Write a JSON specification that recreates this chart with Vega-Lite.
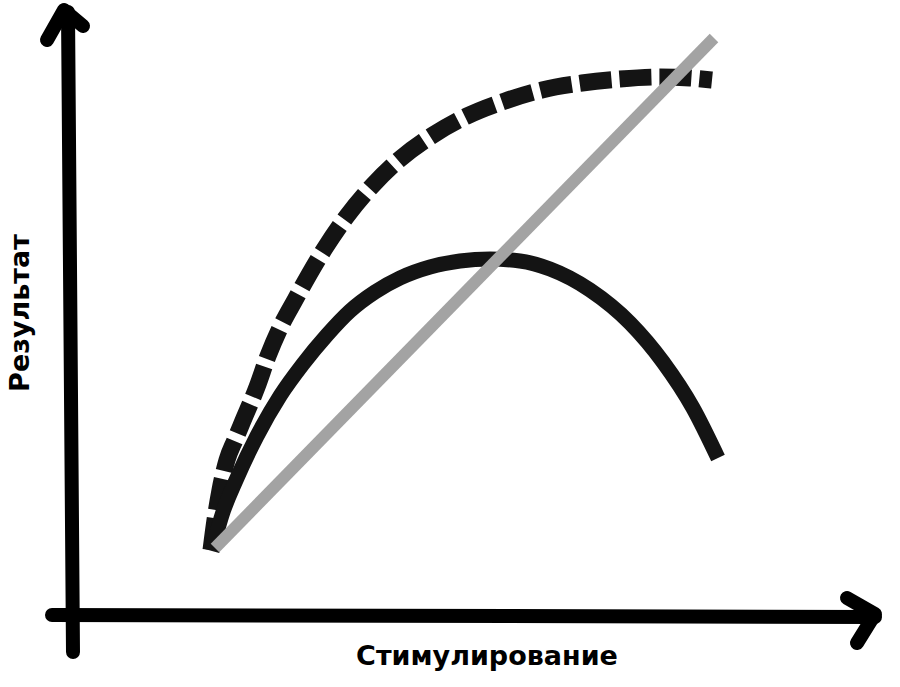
{
  "$schema": "https://vega.github.io/schema/vega-lite/v6.json",
  "width": 900,
  "height": 687,
  "padding": 0,
  "autosize": {"type": "fit", "contains": "padding"},
  "background": "white",
  "view": {"stroke": null},
  "layer": [
    {
      "data": {
        "values": [
          {"part": "y-axis", "i": 1, "x": -0.2, "y": 60.6},
          {"part": "y-axis", "i": 2, "x": 0.3, "y": -3.4},
          {"part": "y-arrow", "i": 1, "x": -2.3, "y": 57.8},
          {"part": "y-arrow", "i": 2, "x": -0.6, "y": 60.8},
          {"part": "y-arrow", "i": 3, "x": 1.3, "y": 59.2},
          {"part": "x-axis", "i": 1, "x": -1.8, "y": 0.3},
          {"part": "x-axis", "i": 2, "x": 80.5, "y": 0.1},
          {"part": "x-arrow", "i": 1, "x": 77.7, "y": 2.0},
          {"part": "x-arrow", "i": 2, "x": 80.5, "y": 0.4},
          {"part": "x-arrow", "i": 3, "x": 78.7, "y": -2.5}
        ]
      },
      "mark": {"type": "line", "color": "black", "strokeWidth": 14, "strokeCap": "round", "strokeJoin": "round"},
      "encoding": {
        "x": {"field": "x", "type": "quantitative", "scale": {"domain": [-7, 83]}, "axis": null},
        "y": {"field": "y", "type": "quantitative", "scale": {"domain": [-6.9, 61.8]}, "axis": null},
        "detail": {"field": "part"},
        "order": {"field": "i"}
      }
    },
    {
      "data": {
        "values": [
          {"x": 14.1, "y": 6.8}, {"x": 14.5, "y": 9.8}, {"x": 15.0, "y": 12.8},
          {"x": 15.7, "y": 15.8}, {"x": 16.5, "y": 17.8}, {"x": 17.2, "y": 19.5},
          {"x": 18.7, "y": 23.1}, {"x": 19.8, "y": 26.2}, {"x": 21.0, "y": 29.0},
          {"x": 22.5, "y": 31.8}, {"x": 24.0, "y": 34.5}, {"x": 25.5, "y": 37.0},
          {"x": 27.7, "y": 40.2}, {"x": 30.3, "y": 43.3}, {"x": 33.0, "y": 45.9},
          {"x": 36.3, "y": 48.3}, {"x": 39.7, "y": 50.2}, {"x": 43.5, "y": 51.7},
          {"x": 47.2, "y": 52.8}, {"x": 51.2, "y": 53.5}, {"x": 55.0, "y": 53.9},
          {"x": 59.0, "y": 54.1}, {"x": 62.0, "y": 54.0}, {"x": 64.2, "y": 53.8}
        ]
      },
      "mark": {"type": "line", "color": "#141414", "strokeWidth": 17, "strokeDash": [32, 8], "strokeCap": "butt", "interpolate": "monotone"},
      "encoding": {
        "x": {"field": "x", "type": "quantitative", "scale": {"domain": [-7, 83]}, "axis": null},
        "y": {"field": "y", "type": "quantitative", "scale": {"domain": [-6.9, 61.8]}, "axis": null}
      }
    },
    {
      "data": {
        "values": [
          {"x": 14.2, "y": 6.7}, {"x": 15.2, "y": 10.3}, {"x": 16.7, "y": 14.0},
          {"x": 18.7, "y": 18.2}, {"x": 21.0, "y": 22.2}, {"x": 23.3, "y": 25.4},
          {"x": 25.7, "y": 28.3}, {"x": 28.0, "y": 30.7}, {"x": 30.5, "y": 32.6},
          {"x": 33.0, "y": 34.0}, {"x": 36.0, "y": 35.1}, {"x": 39.0, "y": 35.7},
          {"x": 42.0, "y": 35.9}, {"x": 45.0, "y": 35.7}, {"x": 48.0, "y": 34.9},
          {"x": 52.0, "y": 32.8}, {"x": 56.0, "y": 29.5}, {"x": 59.3, "y": 25.6},
          {"x": 62.3, "y": 21.0}, {"x": 64.8, "y": 16.0}
        ]
      },
      "mark": {"type": "line", "color": "#141414", "strokeWidth": 15, "strokeCap": "butt", "interpolate": "monotone"},
      "encoding": {
        "x": {"field": "x", "type": "quantitative", "scale": {"domain": [-7, 83]}, "axis": null},
        "y": {"field": "y", "type": "quantitative", "scale": {"domain": [-6.9, 61.8]}, "axis": null}
      }
    },
    {
      "data": {
        "values": [
          {"x": 14.5, "y": 7.0},
          {"x": 64.4, "y": 58.0}
        ]
      },
      "mark": {"type": "line", "color": "#a3a3a3", "strokeWidth": 12, "strokeCap": "butt"},
      "encoding": {
        "x": {"field": "x", "type": "quantitative", "scale": {"domain": [-7, 83]}, "axis": null},
        "y": {"field": "y", "type": "quantitative", "scale": {"domain": [-6.9, 61.8]}, "axis": null}
      }
    },
    {
      "data": {
        "values": [
          {"label": "Результат", "x": -4.9, "y": 30.5, "angle": 270},
          {"label": "Стимулирование", "x": 41.7, "y": -3.9, "angle": 0}
        ]
      },
      "mark": {"type": "text", "font": "DejaVu Sans", "fontWeight": "bold", "fontSize": 27, "color": "black", "align": "center", "baseline": "middle"},
      "encoding": {
        "x": {"field": "x", "type": "quantitative", "scale": {"domain": [-7, 83]}, "axis": null},
        "y": {"field": "y", "type": "quantitative", "scale": {"domain": [-6.9, 61.8]}, "axis": null},
        "text": {"field": "label"},
        "angle": {"field": "angle", "type": "quantitative", "scale": null}
      }
    }
  ]
}
